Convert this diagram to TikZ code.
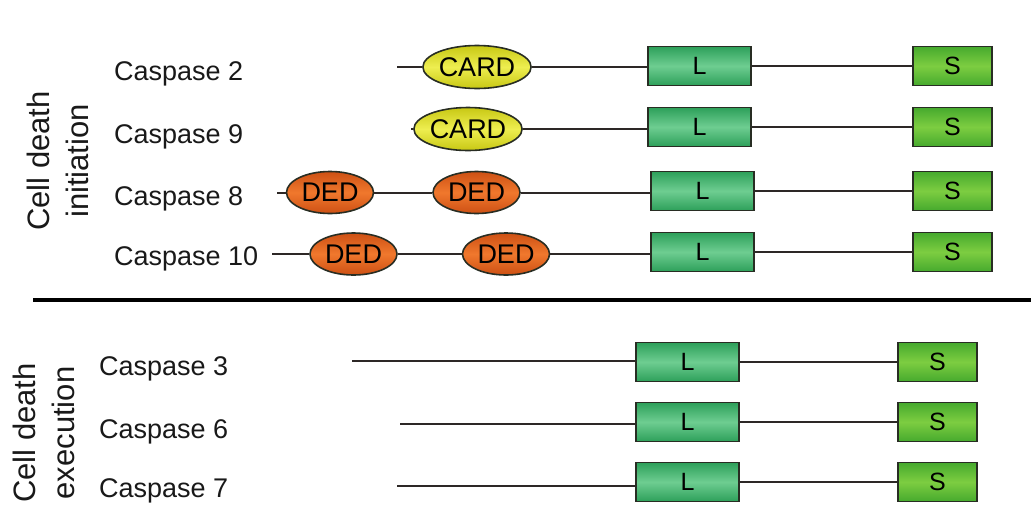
\documentclass[tikz,border=0pt]{standalone}
\usepackage{fontspec}
\setmainfont{Liberation Sans}
\usetikzlibrary{shapes.geometric}
\definecolor{lineclr}{RGB}{45,40,38}
\definecolor{edgeclr}{RGB}{40,45,35}
\definecolor{cardtop}{RGB}{200,200,20}
\definecolor{cardmid}{RGB}{238,238,80}
\definecolor{dedtop}{RGB}{205,80,20}
\definecolor{dedmid}{RGB}{240,120,45}
\definecolor{lbtop}{RGB}{45,160,90}
\definecolor{lbmid}{RGB}{110,205,145}
\definecolor{sbtop}{RGB}{70,170,45}
\definecolor{sbmid}{RGB}{125,205,65}
\tikzset{
  x=1pt, y=-1pt,
  lbl/.style={anchor=base west, inner sep=0pt, font=\fontsize{27}{31}\selectfont, text=black!90},
  grp/.style={rotate=90, align=center, inner sep=0pt, font=\fontsize{31}{39}\selectfont, text=black!90},
  chain/.style={draw=lineclr, line width=2pt},
  dom/.style={draw=edgeclr, line width=1.6pt, inner sep=0pt, font=\fontsize{27}{30}\selectfont, text=black},
  card/.style={dom, ellipse, minimum width=100pt, minimum height=43pt, top color=cardtop, bottom color=cardtop, middle color=cardmid},
  ded/.style={dom, ellipse, minimum width=87pt, minimum height=42pt, top color=dedtop, bottom color=dedtop, middle color=dedmid},
  lbox/.style={dom, rectangle, minimum width=103pt, minimum height=39pt, top color=lbtop, bottom color=lbtop, middle color=lbmid, font=\fontsize{25}{28}\selectfont},
  sbox/.style={dom, rectangle, minimum width=79pt, minimum height=39pt, top color=sbtop, bottom color=sbtop, middle color=sbmid, font=\fontsize{25}{28}\selectfont},
}
\begin{document}
\begin{tikzpicture}
\useasboundingbox (0,0) rectangle (1031,515);
\fill[white] (0,0) rectangle (1031,515);

% group labels
\node[grp] (gInit) at (58,161) {Cell death\\initiation};
\node[grp] (gExec) at (44,433) {Cell death\\execution};

% separator
\coordinate (sepL) at (33,300);
\coordinate (sepR) at (1031,300);
\draw[line width=4pt, black] (sepL) -- (sepR);

% labels
\node[lbl] (t2) at (114,80) {Caspase 2};
\node[lbl] (t9) at (114,143) {Caspase 9};
\node[lbl] (t8) at (114,205) {Caspase 8};
\node[lbl] (t10) at (114,265) {Caspase 10};
\node[lbl] (t3) at (99,375) {Caspase 3};
\node[lbl] (t6) at (99,438) {Caspase 6};
\node[lbl] (t7) at (99,497) {Caspase 7};

% Caspase 2
\node[card] (c2) at (477,67) {CARD};
\coordinate (s2) at (397,67);
\node[lbox] (l2) at (699.5,66) {L};
\node[sbox] (r2) at (952.5,66) {S};
\draw[chain] (s2) -- (c2.west);
\draw[chain] (c2.east) -- (l2.west |- c2.east);
\draw[chain] (l2.east) -- (r2.west);

% Caspase 9
\coordinate (s9) at (411,129);
\node[card] (c9) at (468,129) {CARD};
\node[lbox] (l9) at (699.5,127) {L};
\node[sbox] (r9) at (952.5,127) {S};
\draw[chain] (s9) -- (c9.west);
\draw[chain] (c9.east) -- (l9.west |- c9.east);
\draw[chain] (l9.east) -- (r9.west);

% Caspase 8
\coordinate (s8) at (277,192.5);
\node[ded] (d8a) at (330,192.5) {DED};
\node[ded] (d8b) at (476.5,192.5) {DED};
\node[lbox] (l8) at (702.5,191) {L};
\node[sbox] (r8) at (952.5,191) {S};
\draw[chain] (s8) -- (d8a.west);
\draw[chain] (d8a.east) -- (d8b.west);
\draw[chain] (d8b.east) -- (l8.west |- d8b.east);
\draw[chain] (l8.east) -- (r8.west);

% Caspase 10
\coordinate (s10) at (272,254);
\node[ded] (d10a) at (353.5,254) {DED};
\node[ded] (d10b) at (506,254) {DED};
\node[lbox] (l10) at (702.5,252) {L};
\node[sbox] (r10) at (952.5,252) {S};
\draw[chain] (s10) -- (d10a.west);
\draw[chain] (d10a.east) -- (d10b.west);
\draw[chain] (d10b.east) -- (l10.west |- d10b.east);
\draw[chain] (l10.east) -- (r10.west);

% Caspase 3
\coordinate (s3) at (352,361);
\node[lbox] (l3) at (687.5,362) {L};
\node[sbox] (r3) at (937.5,362) {S};
\draw[chain] (s3) -- (l3.west |- s3);
\draw[chain] (l3.east) -- (r3.west);

% Caspase 6
\coordinate (s6) at (400,424);
\node[lbox] (l6) at (687.5,422) {L};
\node[sbox] (r6) at (937.5,422) {S};
\draw[chain] (s6) -- (l6.west |- s6);
\draw[chain] (l6.east) -- (r6.west);

% Caspase 7
\coordinate (s7) at (397,486);
\node[lbox] (l7) at (687.5,482) {L};
\node[sbox] (r7) at (937.5,482) {S};
\draw[chain] (s7) -- (l7.west |- s7);
\draw[chain] (l7.east) -- (r7.west);
\end{tikzpicture}
\end{document}
